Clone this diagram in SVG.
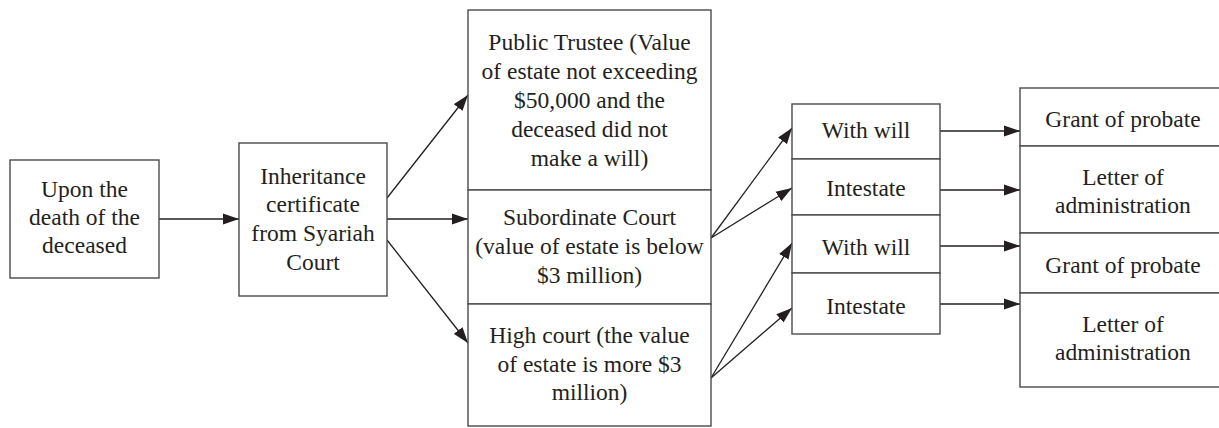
<svg xmlns="http://www.w3.org/2000/svg" width="1219" height="428" viewBox="0 0 1219 428">
<style>
.box{fill:#fff;stroke:#4a4a4a;stroke-width:1.4}
.t{font-size:23.5px;fill:#231f20;text-anchor:middle}
.c{stroke:#231f20;stroke-width:1.3;fill:none;marker-end:url(#ah)}
</style>
<defs>
<marker id="ah" markerUnits="userSpaceOnUse" markerWidth="17" markerHeight="12" refX="16" refY="6" orient="auto">
<path d="M0,0.5 L16,6 L0,11.5 z" fill="#231f20"/>
</marker>
</defs>
<rect width="1219" height="428" fill="#fff"/>
<g id="connectors">
<line class="c" x1="159" y1="219" x2="239" y2="219"/>
<line class="c" x1="387" y1="198" x2="468" y2="95"/>
<line class="c" x1="387" y1="219" x2="468" y2="219"/>
<line class="c" x1="387" y1="240" x2="468" y2="343"/>
<line class="c" x1="711" y1="238" x2="792" y2="128"/>
<line class="c" x1="711" y1="238" x2="792" y2="188"/>
<line class="c" x1="711" y1="378" x2="792" y2="243"/>
<line class="c" x1="711" y1="378" x2="792" y2="308"/>
<line class="c" x1="940" y1="131" x2="1020" y2="131"/>
<line class="c" x1="940" y1="190" x2="1020" y2="190"/>
<line class="c" x1="940" y1="246" x2="1020" y2="246"/>
<line class="c" x1="940" y1="304" x2="1020" y2="304"/>
</g>
<g font-family="Liberation Serif">
<g id="n1">
<rect class="box" x="10" y="160" width="149" height="118"/>
<text class="t" font-family="Liberation Serif" x="84.5" y="197">Upon the</text>
<text class="t" font-family="Liberation Serif" x="84.5" y="225">death of the</text>
<text class="t" font-family="Liberation Serif" x="84.5" y="253">deceased</text>
</g>
<g id="n2">
<rect class="box" x="239" y="143" width="148" height="153"/>
<text class="t" font-family="Liberation Serif" x="313" y="184">Inheritance</text>
<text class="t" font-family="Liberation Serif" x="313" y="212">certificate</text>
<text class="t" font-family="Liberation Serif" x="313" y="241">from Syariah</text>
<text class="t" font-family="Liberation Serif" x="313" y="270">Court</text>
</g>
<g id="n3">
<rect class="box" x="468" y="10" width="243" height="180"/>
<text class="t" font-family="Liberation Serif" x="589.5" y="50">Public Trustee (Value</text>
<text class="t" font-family="Liberation Serif" x="589.5" y="79">of estate not exceeding</text>
<text class="t" font-family="Liberation Serif" x="589.5" y="108">$50,000 and the</text>
<text class="t" font-family="Liberation Serif" x="589.5" y="137">deceased did not</text>
<text class="t" font-family="Liberation Serif" x="589.5" y="166">make a will)</text>
</g>
<g id="n4">
<rect class="box" x="468" y="190" width="243" height="114"/>
<text class="t" font-family="Liberation Serif" x="589.5" y="225">Subordinate Court</text>
<text class="t" font-family="Liberation Serif" x="589.5" y="254">(value of estate is below</text>
<text class="t" font-family="Liberation Serif" x="589.5" y="283">$3 million)</text>
</g>
<g id="n5">
<rect class="box" x="468" y="304" width="243" height="122"/>
<text class="t" font-family="Liberation Serif" x="589.5" y="343">High court (the value</text>
<text class="t" font-family="Liberation Serif" x="589.5" y="372">of estate is more $3</text>
<text class="t" font-family="Liberation Serif" x="589.5" y="400">million)</text>
</g>
<g id="n6">
<rect class="box" x="792" y="104" width="148" height="55"/>
<text class="t" font-family="Liberation Serif" x="866" y="138">With will</text>
</g>
<g id="n7">
<rect class="box" x="792" y="159" width="148" height="56"/>
<text class="t" font-family="Liberation Serif" x="866" y="196">Intestate</text>
</g>
<g id="n8">
<rect class="box" x="792" y="215" width="148" height="58"/>
<text class="t" font-family="Liberation Serif" x="866" y="255">With will</text>
</g>
<g id="n9">
<rect class="box" x="792" y="273" width="148" height="61"/>
<text class="t" font-family="Liberation Serif" x="866" y="314">Intestate</text>
</g>
<g id="n10">
<rect class="box" x="1020" y="88" width="206" height="58"/>
<text class="t" font-family="Liberation Serif" x="1123" y="127">Grant of probate</text>
</g>
<g id="n11">
<rect class="box" x="1020" y="146" width="206" height="87"/>
<text class="t" font-family="Liberation Serif" x="1123" y="185">Letter of</text>
<text class="t" font-family="Liberation Serif" x="1123" y="213">administration</text>
</g>
<g id="n12">
<rect class="box" x="1020" y="233" width="206" height="60"/>
<text class="t" font-family="Liberation Serif" x="1123" y="273">Grant of probate</text>
</g>
<g id="n13">
<rect class="box" x="1020" y="293" width="206" height="94"/>
<text class="t" font-family="Liberation Serif" x="1123" y="332">Letter of</text>
<text class="t" font-family="Liberation Serif" x="1123" y="360">administration</text>
</g>
</g>
</svg>
